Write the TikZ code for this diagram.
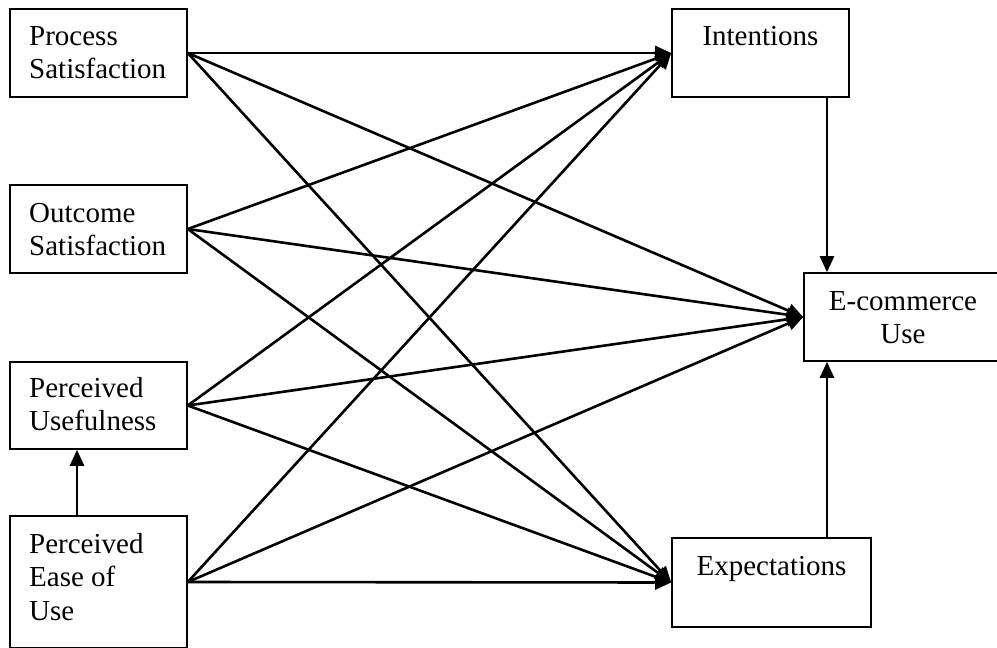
\documentclass[tikz,border=0pt]{standalone}
\usepackage{fontspec}
\setmainfont{Liberation Serif}
\usetikzlibrary{arrows.meta}
\tikzset{
  box/.style={draw, line width=1.6pt, rectangle, inner sep=0pt},
  lbl/.style={inner sep=0pt, font=\fontsize{29}{33.5}\selectfont},
  conn/.style={line width=2.6pt, -{Triangle[length=16pt,width=14pt]}},
}
\newcommand{\firststrut}{\vrule height 22pt width 0pt}
\begin{document}
\begin{tikzpicture}[x=1pt,y=-1pt]
\useasboundingbox (0,0) rectangle (997,648);
\clip (0,0) rectangle (997,648);
% left boxes
\node[box, minimum width=177pt, minimum height=88pt] (ps) at (98.5,53) {};
\node[box, minimum width=177pt, minimum height=88pt] (os) at (98.5,229) {};
\node[box, minimum width=177pt, minimum height=87pt] (pu) at (98.5,405.5) {};
\node[box, minimum width=177pt, minimum height=132pt] (pe) at (98.5,582) {};
% right boxes
\node[box, minimum width=177pt, minimum height=88pt] (int) at (760.5,53) {};
\node[box, minimum width=196pt, minimum height=88pt] (ec) at (902,317) {};
\node[box, minimum width=199pt, minimum height=89pt] (ex) at (771.5,582.5) {};
% labels
\node[lbl, anchor=north west, align=left] (tps) at (29,23) {\firststrut Process\\Satisfaction};
\node[lbl, anchor=north west, align=left] (tos) at (29,200) {\firststrut Outcome\\Satisfaction};
\node[lbl, anchor=north west, align=left] (tpu) at (29,375) {\firststrut Perceived\\Usefulness};
\node[lbl, anchor=north west, align=left] (tpe) at (29,531) {\firststrut Perceived\\Ease of\\Use};
\node[lbl, anchor=north, align=center] (tint) at (760.5,23) {\firststrut Intentions};
\node[lbl, anchor=north, align=center] (tec) at (903,288) {\firststrut E-commerce\\Use};
\node[lbl, anchor=north, align=center] (tex) at (771.5,553) {\firststrut Expectations};
% helper coordinates
\coordinate (vx) at (827,0);
\coordinate (ux) at (77,0);
% connectors
\foreach \s in {ps,os,pu,pe}{
  \draw[conn] (\s.east) -- (int.west);
  \draw[conn] (\s.east) -- (ec.west);
  \draw[conn] (\s.east) -- (ex.west);
}
\draw[conn] (int.south -| vx) -- (ec.north -| vx);
\draw[conn] (ex.north -| vx) -- (ec.south -| vx);
\draw[conn] (pe.north -| ux) -- (pu.south -| ux);
\end{tikzpicture}
\end{document}
